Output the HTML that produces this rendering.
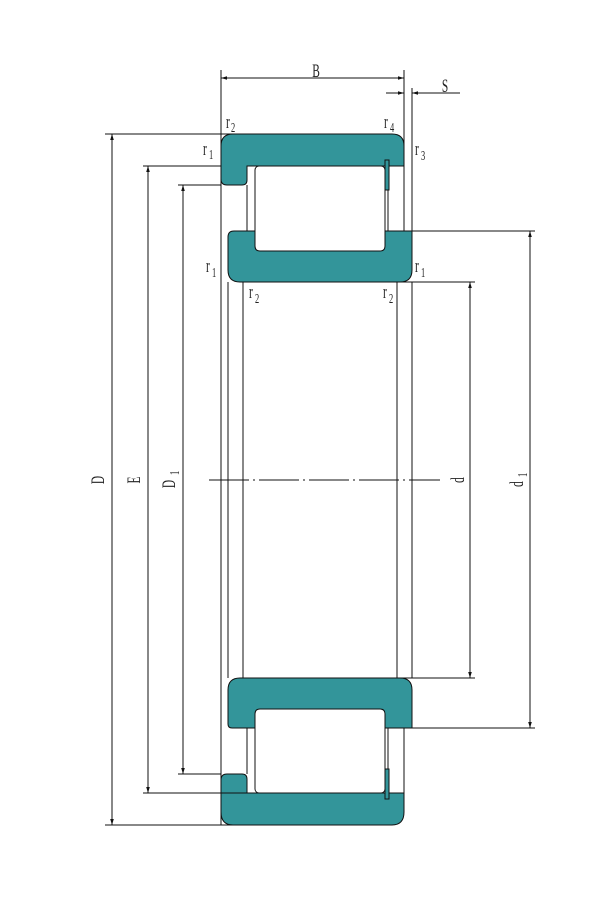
<!DOCTYPE html>
<html><head><meta charset="utf-8"><style>
html,body{margin:0;padding:0;background:#fff}
svg{display:block}
text{font-family:"Liberation Serif",serif;fill:#222}
</style></head><body>
<svg width="600" height="900" viewBox="0 0 600 900" xmlns="http://www.w3.org/2000/svg">
<defs>
<marker id="a" viewBox="0 0 10 10" refX="10" refY="5" markerWidth="8" markerHeight="6" orient="auto-start-reverse"><path d="M0,2 L10,5 L0,8 z" fill="#111"/></marker>
</defs>
<g stroke="#111" stroke-width="1" fill="none">
<line x1="221" y1="70" x2="221" y2="825"/>
<line x1="404" y1="70" x2="404" y2="232"/>
<line x1="404" y1="728" x2="404" y2="793"/>
<line x1="412" y1="88" x2="412" y2="232"/>
<line x1="228" y1="282" x2="228" y2="678"/>
<line x1="243" y1="282" x2="243" y2="678"/>
<line x1="397" y1="282" x2="397" y2="678"/>
<line x1="412" y1="282" x2="412" y2="678"/>
<line x1="247" y1="185" x2="247" y2="231"/>
<line x1="247" y1="728" x2="247" y2="774"/>
<line x1="388" y1="166" x2="388" y2="231"/>
<line x1="388" y1="728" x2="388" y2="793"/>
<!-- rollers -->
<rect x="255" y="166" width="130" height="85" rx="4" fill="#fff"/>
<rect x="255" y="709" width="130" height="84" rx="4" fill="#fff"/>
<line x1="105" y1="134" x2="240" y2="134"/>
<line x1="105" y1="825" x2="240" y2="825"/>
<line x1="143" y1="166" x2="221" y2="166"/>
<line x1="143" y1="793" x2="221" y2="793"/>
<line x1="178" y1="185" x2="221" y2="185"/>
<line x1="178" y1="774" x2="221" y2="774"/>
<line x1="412" y1="231" x2="535" y2="231"/>
<line x1="412" y1="728" x2="535" y2="728"/>
<line x1="397" y1="282" x2="475" y2="282"/>
<line x1="397" y1="678" x2="475" y2="678"/>
<line x1="112" y1="134" x2="112" y2="825" marker-start="url(#a)" marker-end="url(#a)"/>
<line x1="148" y1="166" x2="148" y2="793" marker-start="url(#a)" marker-end="url(#a)"/>
<line x1="183" y1="185" x2="183" y2="774" marker-start="url(#a)" marker-end="url(#a)"/>
<line x1="470" y1="282" x2="470" y2="678" marker-start="url(#a)" marker-end="url(#a)"/>
<line x1="530" y1="231" x2="530" y2="728" marker-start="url(#a)" marker-end="url(#a)"/>
<line x1="221" y1="78" x2="404" y2="78" marker-start="url(#a)" marker-end="url(#a)"/>
<line x1="386" y1="93" x2="404" y2="93" marker-end="url(#a)"/>
<line x1="460" y1="93" x2="412" y2="93" marker-end="url(#a)"/>
<line x1="209" y1="480" x2="440" y2="480" stroke-dasharray="40,4,2,4"/>
</g>
<g fill="#33959a" stroke="#111" stroke-width="1">
<path d="M233,134 H392 Q404,134 404,146 V166 H247 V180 Q247,185 242,185 H227 Q221,185 221,179 V146 Q221,134 233,134 Z"/>
<rect x="385" y="160" width="4" height="30"/>
<path d="M234,231 H255 V246 Q255,251 260,251 H380 Q385,251 385,246 V231 H412 V270 Q412,282 400,282 H240 Q228,282 228,270 V237 Q228,231 234,231 Z"/>
<path d="M240,678 H400 Q412,678 412,690 V728 H385 V714 Q385,709 380,709 H260 Q255,709 255,714 V728 H232 Q228,728 228,724 V690 Q228,678 240,678 Z"/>
<path d="M221,793 V812 Q221,825 233,825 H392 Q404,825 404,812 V793 Z"/>
<path d="M227,774 H242 Q247,774 247,779 V793 H221 V780 Q221,774 227,774 Z"/>
<rect x="385" y="769" width="4" height="30"/>
</g>
<g font-size="19">
<text x="0" y="0" transform="translate(316,77) scale(0.6,1)" text-anchor="middle">B</text>
<text x="0" y="0" transform="translate(445,92) scale(0.6,1)" text-anchor="middle">S</text>
<text transform="translate(226,128) scale(0.6,1)">r</text><text transform="translate(231,132) scale(0.6,1)" font-size="14">2</text>
<text transform="translate(203,155) scale(0.6,1)">r</text><text transform="translate(209,159) scale(0.6,1)" font-size="14">1</text>
<text transform="translate(384,128) scale(0.6,1)">r</text><text transform="translate(390,132) scale(0.6,1)" font-size="14">4</text>
<text transform="translate(415,155) scale(0.6,1)">r</text><text transform="translate(421,160) scale(0.6,1)" font-size="14">3</text>
<text transform="translate(206,272) scale(0.6,1)">r</text><text transform="translate(212,277) scale(0.6,1)" font-size="14">1</text>
<text transform="translate(415,272) scale(0.6,1)">r</text><text transform="translate(421,277) scale(0.6,1)" font-size="14">1</text>
<text transform="translate(249,298) scale(0.6,1)">r</text><text transform="translate(255,303) scale(0.6,1)" font-size="14">2</text>
<text transform="translate(383,298) scale(0.6,1)">r</text><text transform="translate(389,303) scale(0.6,1)" font-size="14">2</text>
<text transform="translate(104,480) rotate(-90) scale(0.6,1)" text-anchor="middle">D</text>
<text transform="translate(140,480) rotate(-90) scale(0.6,1)" text-anchor="middle">E</text>
<text transform="translate(175,484) rotate(-90) scale(0.6,1)" text-anchor="middle">D</text>
<text transform="translate(179,475) rotate(-90) scale(0.6,1)" font-size="14">1</text>
<text transform="translate(464,480) rotate(-90) scale(0.6,1)" text-anchor="middle">d</text>
<text transform="translate(523,484) rotate(-90) scale(0.6,1)" text-anchor="middle">d</text>
<text transform="translate(527,477) rotate(-90) scale(0.6,1)" font-size="14">1</text>
</g>
</svg>
</body></html>
